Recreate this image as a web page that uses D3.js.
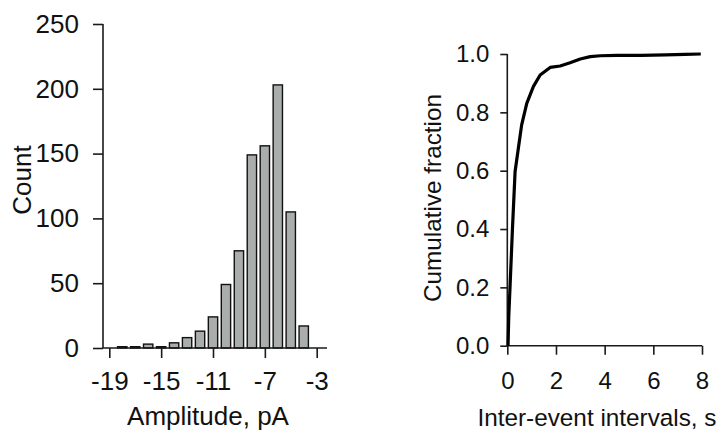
<!DOCTYPE html>
<html>
<head>
<meta charset="utf-8">
<script src="https://cdn.jsdelivr.net/npm/d3@7"></script>
<style>
  body { margin: 0; background: #fff; }
  svg { display: block; font-family: "Liberation Sans", Arial, sans-serif; }
  .axis path, .axis line { stroke: #1a1a1a; stroke-width: 1.6px; }
  .axis text { fill: #111; }
</style>
</head>
<body>
<svg id="chart" width="720" height="436"></svg>
<script>
// Amplitude histogram (bin centres, pA) and counts
const ampBins = [-18, -17, -16, -15, -14, -13, -12, -11, -10, -9, -8, -7, -6, -5, -4];
const ampCounts = [1, 1, 3, 1, 4, 8, 13, 24, 49, 75, 149, 156, 203, 105, 17];
const ampTicks = [-19, -15, -11, -7, -3];
const countTicks = [0, 50, 100, 150, 200, 250];

// Cumulative distribution of inter-event intervals (s)
const intervalTimes = [0.03, 0.06, 0.11, 0.21, 0.32, 0.46, 0.59, 0.8, 1.07, 1.35, 1.76, 2.17, 2.58, 3.0, 3.41, 3.82, 4.5, 5.5, 6.5, 7.3, 7.95];
const cumFraction = [0, 0.1, 0.197, 0.397, 0.597, 0.68, 0.757, 0.831, 0.888, 0.928, 0.954, 0.959, 0.970, 0.983, 0.991, 0.994, 0.995, 0.995, 0.997, 0.999, 1.0];
const timeTicks = [0, 2, 4, 6, 8];
const fracTicks = [0, 0.2, 0.4, 0.6, 0.8, 1.0];

const svg = d3.select('#chart');

// ---- left panel: histogram ----
const left = { x0: 103, x1: 327, yTop: 24, yBase: 348 };
const xA = d3.scaleLinear().domain([-19, -3]).range([109.3, 316.7]);
const yA = d3.scaleLinear().domain([0, 250]).range([left.yBase, left.yTop]);

svg.append('g')
  .selectAll('rect')
  .data(ampBins.map((b, i) => ({ b, c: ampCounts[i] })))
  .enter().append('rect')
  .attr('x', d => xA(d.b - 0.36))
  .attr('width', xA(0.36) - xA(-0.36))
  .attr('y', d => yA(d.c))
  .attr('height', d => yA(0) - yA(d.c))
  .attr('fill', '#a9adab')
  .attr('stroke', '#111')
  .attr('stroke-width', 1.4);

const gxA = svg.append('g').attr('class', 'axis')
  .attr('transform', `translate(0,${left.yBase})`)
  .call(d3.axisBottom(xA).tickValues(ampTicks).tickSize(10).tickPadding(13.5).tickFormat(d3.format('d')));
gxA.select('.domain').remove();
gxA.selectAll('text').attr('font-size', 26).text(d => d < 0 ? '-' + Math.abs(d) : d);
svg.append('line').attr('class', 'axisline')
  .attr('x1', left.x0).attr('x2', left.x1)
  .attr('y1', left.yBase).attr('y2', left.yBase)
  .attr('stroke', '#1a1a1a').attr('stroke-width', 1.6);

const gyA = svg.append('g').attr('class', 'axis')
  .attr('transform', `translate(${left.x0},0)`)
  .call(d3.axisLeft(yA).tickValues(countTicks).tickSize(10).tickPadding(14));
gyA.select('.domain').attr('d', `M0,${left.yTop}V${left.yBase}`);
gyA.selectAll('text').attr('font-size', 26);

svg.append('text')
  .attr('x', 208).attr('y', 425)
  .attr('text-anchor', 'middle').attr('font-size', 26).attr('fill', '#111')
  .text('Amplitude, pA');
svg.append('text')
  .attr('transform', 'translate(31,180) rotate(-90)')
  .attr('text-anchor', 'middle').attr('font-size', 26).attr('fill', '#111')
  .text('Count');

// ---- right panel: cumulative fraction ----
const right = { x0: 507.3, x1: 702, yTop: 54, yBase: 345.7 };
const xB = d3.scaleLinear().domain([0, 8]).range([right.x0, right.x1]);
const yB = d3.scaleLinear().domain([0, 1]).range([right.yBase, right.yTop]);

const gxB = svg.append('g').attr('class', 'axis')
  .attr('transform', `translate(0,${right.yBase})`)
  .call(d3.axisBottom(xB).tickValues(timeTicks).tickSize(9).tickPadding(17).tickFormat(d3.format('d')));
gxB.select('.domain').attr('d', `M${right.x0},0H${right.x1}`);
gxB.selectAll('text').attr('font-size', 24);

const gyB = svg.append('g').attr('class', 'axis')
  .attr('transform', `translate(${right.x0},0)`)
  .call(d3.axisLeft(yB).tickValues(fracTicks).tickSize(7).tickPadding(11).tickFormat(d3.format('.1f')));
gyB.select('.domain').attr('d', `M0,${right.yTop}V${right.yBase}`);
gyB.selectAll('text').attr('font-size', 24);

svg.append('path')
  .datum(intervalTimes.map((t, i) => [t, cumFraction[i]]))
  .attr('fill', 'none')
  .attr('stroke', '#000')
  .attr('stroke-width', 3.2)
  .attr('stroke-linejoin', 'round')
  .attr('d', d3.line().x(d => xB(d[0])).y(d => yB(d[1])));

svg.append('text')
  .attr('x', 597).attr('y', 426)
  .attr('text-anchor', 'middle').attr('font-size', 24.3).attr('fill', '#111')
  .text('Inter-event intervals, s');
svg.append('text')
  .attr('transform', 'translate(441,198) rotate(-90)')
  .attr('text-anchor', 'middle').attr('font-size', 24.3).attr('fill', '#111')
  .text('Cumulative fraction');
</script>
</body>
</html>
